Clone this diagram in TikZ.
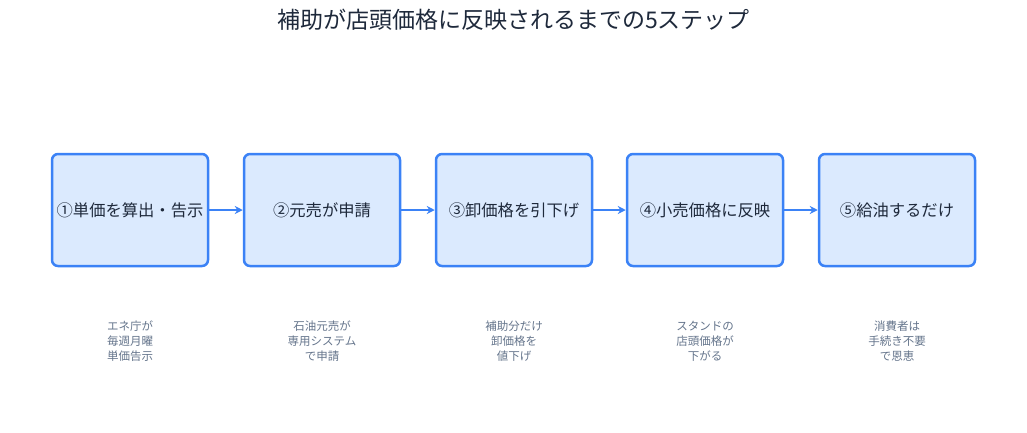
\documentclass[tikz,border=0pt]{standalone}
\usepackage{fontspec}
\setmainfont{Noto Sans CJK JP}
\newfontfamily\titlefont{Noto Sans CJK JP Medium}
\usetikzlibrary{arrows.meta}
\definecolor{boxfill}{HTML}{DBEAFE}
\definecolor{boxline}{HTML}{3B82F6}
\definecolor{txt}{HTML}{1E293B}
\definecolor{cap}{HTML}{64748B}
\begin{document}
\begin{tikzpicture}[x=1pt,y=-1pt,
  stepbox/.style={draw=boxline,fill=boxfill,line width=2.5pt,rounded corners=6pt,minimum width=156pt,minimum height=112pt,inner sep=0pt,font=\fontsize{16.3}{19}\selectfont,text=txt},
  captxt/.style={align=center,font=\fontsize{11.5}{15}\selectfont,text=cap},
  conn/.style={draw=boxline,line width=2.5pt,-{Stealth[length=8pt,width=8pt]}}]
\useasboundingbox (0,0) rectangle (1027,432);
\node[font=\fontsize{23}{27}\selectfont,text=txt] (title) at (513.5,20) {補助が店頭価格に反映されるまでの5ステップ};
\node[stepbox] (s1) at (130,210) {①単価を算出・告示};
\node[stepbox] (s2) at (322,210) {②元売が申請};
\node[stepbox] (s3) at (514,210) {③卸価格を引下げ};
\node[stepbox] (s4) at (705,210) {④小売価格に反映};
\node[stepbox] (s5) at (897,210) {⑤給油するだけ};
\draw[conn] (s1) -- (s2);
\draw[conn] (s2) -- (s3);
\draw[conn] (s3) -- (s4);
\draw[conn] (s4) -- (s5);
\node[captxt] (c1) at (130,341) {エネ庁が\\毎週月曜\\単価告示};
\node[captxt] (c2) at (322,341) {石油元売が\\専用システム\\で申請};
\node[captxt] (c3) at (514,341) {補助分だけ\\卸価格を\\値下げ};
\node[captxt] (c4) at (705,341) {スタンドの\\店頭価格が\\下がる};
\node[captxt] (c5) at (897,341) {消費者は\\手続き不要\\で恩恵};
\end{tikzpicture}
\end{document}
